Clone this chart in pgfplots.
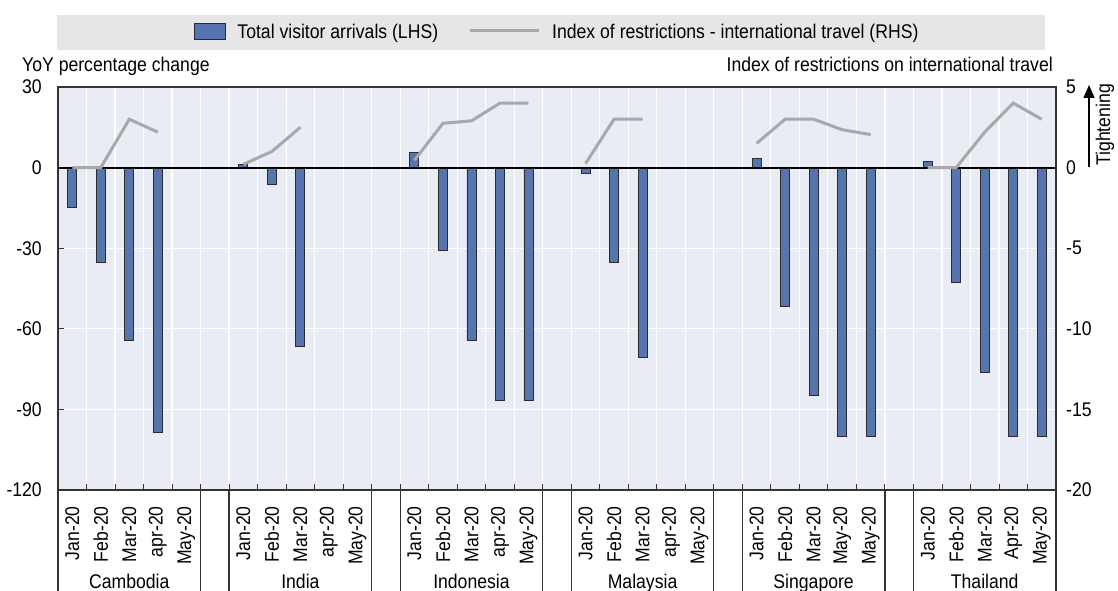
\documentclass[border=0pt]{standalone}
\usepackage{pgfplots}
\pgfplotsset{compat=1.18}
\usepackage{pgfplotstable}
\usetikzlibrary{arrows.meta}
\usepackage{fontspec}
\setmainfont[FakeStretch=0.89]{Liberation Sans}

\definecolor{barblue}{HTML}{5674AE}
\definecolor{baredge}{HTML}{2B2B2B}
\definecolor{plotbg}{HTML}{E9EBF5}
\definecolor{legbg}{HTML}{E6E6E6}
\definecolor{linegray}{HTML}{A8A8A8}
\definecolor{frame}{HTML}{333333}

\pgfplotsset{
  barlegend/.style={legend image code/.code={\draw[##1] (0pt,-7pt) rectangle (31pt,9pt);}},
  linelegend/.style={legend image code/.code={\draw[##1] (0pt,1pt) -- (69pt,1pt);}},
}

% Bars: total visitor arrivals, YoY % change (LHS)
\pgfplotstableread{
x y
0 -15
1 -35.3
2 -64.3
3 -98.7
6 1.2
7 -6.4
8 -66.6
12 5.6
13 -31
14 -64.3
15 -86.8
16 -86.8
18 -2.1
19 -35.3
20 -70.8
24 3.5
25 -51.5
26 -84.7
27 -100
28 -100
30 2.2
31 -42.8
32 -76.2
33 -100
34 -100
}\arrivals

% Line: index of restrictions on international travel (RHS)
\pgfplotstableread{
x y
0 0
1 0
2 3
3 2.2
4 nan
6 0.2
7 1.0
8 2.5
9 nan
12 0.45
13 2.75
14 2.9
15 4
16 4
17 nan
18 0.25
19 3
20 3
21 nan
24 1.5
25 3
26 3
27 2.35
28 2.05
29 nan
30 0
31 0
32 2.2
33 4
34 3
}\restrict

\begin{document}
\begin{tikzpicture}[font=\fontsize{19.8}{22}\selectfont]
\useasboundingbox (0,0) rectangle (1118pt,590pt);
\fill[legbg] (57pt,540pt) rectangle (1045pt,575pt);

\begin{axis}[
  at={(58pt,100pt)}, anchor=south west,
  width=998pt, height=403pt, scale only axis,
  clip=false,
  xmin=-0.5, xmax=34.5, ymin=-120, ymax=30,
  ytick={-120,-90,...,30},
  xtick={0,...,34},
  xticklabels={Jan-20,Feb-20,Mar-20,apr-20,May-20,{},
               Jan-20,Feb-20,Mar-20,apr-20,May-20,{},
               Jan-20,Feb-20,Mar-20,apr-20,May-20,{},
               Jan-20,Feb-20,Mar-20,apr-20,May-20,{},
               Jan-20,Feb-20,Mar-20,May-20,May-20,{},
               Jan-20,Feb-20,Mar-20,Apr-20,May-20},
  major x tick style={draw=none},
  minor xtick={-0.5,0.5,...,34.5},
  xminorgrids, ymajorgrids,
  minor x grid style={white, line width=1.2pt},
  major y grid style={white, line width=1.2pt},
  minor tick length=6pt, major tick length=6pt,
  tick align=inside,
  xtick pos=bottom, ytick pos=left,
  tick style={frame, line width=0.9pt},
  axis background/.style={fill=plotbg},
  axis line style={frame, line width=1.2pt},
  xticklabel style={rotate=90, anchor=east, inner sep=0pt},
  xticklabel shift=16pt,
  yticklabel style={anchor=east, inner sep=0pt},
  yticklabel shift=16pt,
  /pgf/number format/assume math mode=true,
  legend style={at={(0.5,1)}, anchor=center, yshift=55pt, draw=none, fill=none,
    legend columns=2, inner sep=0pt,
    /tikz/every even column/.append style={column sep=28pt},
    nodes={inner sep=2pt}},
  legend cell align=left,
]
\addplot[ybar, bar width=9pt, bar shift=0pt, fill=barblue, draw=baredge, line width=0.9pt, barlegend]
  table[x=x, y=y] {\arrivals};
\addlegendentry{\hspace{10pt}Total visitor arrivals (LHS)}
\addlegendimage{linegray, line width=3pt, linelegend}
\addlegendentry{\hspace{10pt}Index of restrictions - international travel (RHS)}

\draw[black, line width=1.8pt] (axis cs:-0.5,0) -- (axis cs:34.5,0);

\node[anchor=base] at ([yshift=-98pt]axis cs:2,-120) {Cambodia};
\node[anchor=base] at ([yshift=-98pt]axis cs:8,-120) {India};
\node[anchor=base] at ([yshift=-98pt]axis cs:14,-120) {Indonesia};
\node[anchor=base] at ([yshift=-98pt]axis cs:20,-120) {Malaysia};
\node[anchor=base] at ([yshift=-98pt]axis cs:26,-120) {Singapore};
\node[anchor=base] at ([yshift=-98pt]axis cs:32,-120) {Thailand};
\end{axis}

\begin{axis}[
  at={(58pt,100pt)}, anchor=south west,
  width=998pt, height=403pt, scale only axis,
  xmin=-0.5, xmax=34.5, ymin=-20, ymax=5,
  ytick={-20,-15,...,5},
  axis x line=none, axis y line*=right,
  axis line style={frame, line width=1.2pt},
  major tick length=0pt,
  yticklabel style={anchor=west, inner sep=0pt},
  yticklabel shift=10pt,
  /pgf/number format/assume math mode=true,
  unbounded coords=jump,
]
\addplot[linegray, line width=3pt, no marks] table[x=x, y=y] {\restrict};
\end{axis}

\foreach \k in {0,5,6,11,12,17,18,23,24,29,30,35}{
  \draw[frame, line width=1.2pt] ({58pt+28.514pt*\k},100pt) -- ++(0,-110pt);
}

\node[anchor=base west, inner sep=0pt] at (22pt,518pt) {YoY percentage change};
\node[anchor=base east, inner sep=0pt] at (1053pt,518pt) {Index of restrictions on international travel};
\node[rotate=90, anchor=center, inner sep=0pt] at (1105pt,465pt) {Tightening};
\draw[black, line width=1.5pt, -{Triangle[width=11pt,length=13pt]}] (1089pt,423pt) -- (1089pt,505pt);
\end{tikzpicture}
\end{document}
